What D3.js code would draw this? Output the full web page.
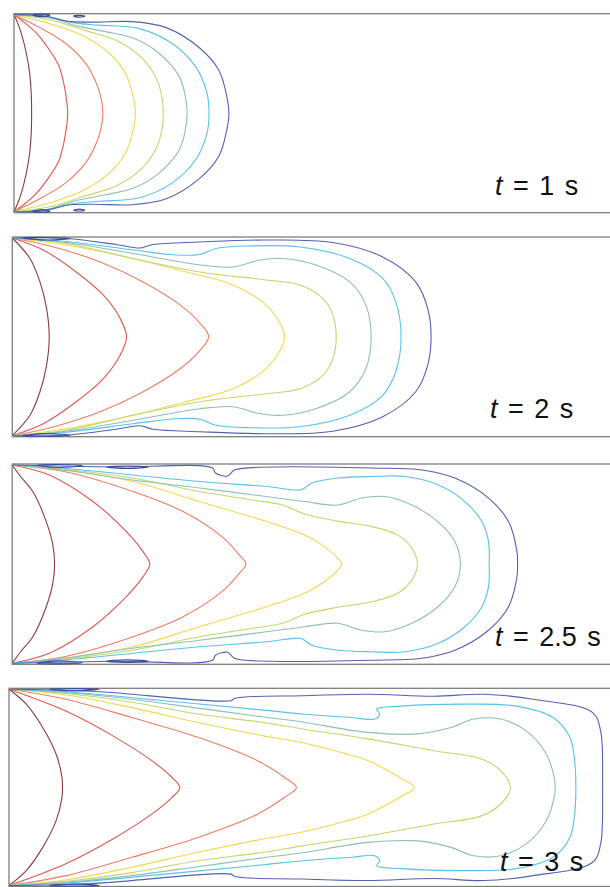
<!DOCTYPE html>
<html>
<head>
<meta charset="utf-8">
<script src="https://cdn.jsdelivr.net/npm/d3@7"></script>
<style>
  body { margin: 0; background: #fff; }
  svg { display: block; }
  .label { font-family: 'Liberation Sans', Arial, sans-serif; font-size: 27px; fill: #111; word-spacing: 3px; }
</style>
</head>
<body>
<div id="chart"></div>
<script>
// contour levels, innermost (left) to outermost
const levelColors = ['#8e3b3b', '#e2564f', '#ee7d63', '#f2d84c', '#c2d66c', '#8dbfb3', '#57c3ea', '#5461ad'];
const timeLabels = ['1', '2', '2.5', '3'];

// upper half of each contour: [x, y], x along channel, y from centre (-100 = top wall)
const contours1 = [
  [[0, -99], [4, -90], [8, -78], [12, -62], [15.5, -42], [17.3, -20], [17.7, 0]],
  [[0, -99], [12, -90], [23, -80], [36, -63], [45, -48], [50, -30], [53, -12], [54, 0]],
  [[0, -99], [26, -86], [52, -70], [72, -50], [84, -27], [88.5, -10], [89.3, 0]],
  [[0, -99], [36, -90], [69, -78], [96, -60], [112, -40], [119, -20], [122, 0]],
  [[0, -99], [36, -94], [72, -83], [103, -73], [129, -55], [144, -33], [149, -14], [150, 0]],
  [[0, -99], [36, -96], [62, -88], [92, -82], [121, -75], [146, -60], [166, -37], [172, -18], [174, 0]],
  [[0, -99], [36, -97], [59, -91], [86, -88.5], [126, -85], [159, -70], [183, -46], [194, -20], [196, 0]],
  [[0, -99], [29, -98], [53, -92.5], [79, -91.5], [119, -92], [153, -86], [186, -66], [206, -43], [214, -16], [216, 0]],
];
const contours2 = [
  [[0, -99], [17.7, -78.5], [27.7, -55], [34.3, -28.5], [37, 0]],
  [[0, -99], [31, -87], [64, -65], [91, -42], [108, -18.5], [114.4, 0]],
  [[0, -99], [38, -91], [88, -75], [131, -55], [168, -32], [188, -13.5], [196.7, 0]],
  [[0, -99], [54, -92], [114, -80], [174, -65], [221, -52], [254, -32], [269, -12], [272.7, 0]],
  [[0, -99], [54, -93.5], [121, -78.5], [188, -65], [254, -57], [288, -52], [311, -38.5], [321, -22], [324.4, 0]],
  [[0, -99], [54, -94.5], [121, -83.5], [188, -72], [221, -70], [248, -77], [271, -78.5], [304, -72], [338, -55], [354, -32], [359.4, 0]],
  [[0, -99], [54, -95.5], [121, -87], [164, -82], [188, -82.5], [204, -88.5], [238, -91], [288, -90], [338, -78.5], [371, -58.5], [384, -35], [389.4, 0]],
  [[0, -99], [54, -98.5], [104, -92.5], [128, -89], [141, -92.5], [188, -95], [254, -97], [321, -94.5], [371, -80], [404, -55], [416, -28.5], [419.4, 0]],
];
const contours3 = [
  [[0, -99], [8, -88], [20.6, -72.5], [34, -42.5], [40.6, -19], [42.3, 0]],
  [[0, -99], [37, -89], [80.6, -62.5], [114, -32.5], [130.6, -12.5], [137.3, 0]],
  [[0, -99], [54, -92], [120.6, -72.5], [170.6, -52.5], [210, -27], [226, -10], [233.3, 0]],
  [[0, -99], [54, -94], [120.6, -82.5], [187, -62.5], [254, -42.5], [292, -29], [311, -18], [325, -6], [329, 0]],
  [[0, -99], [50, -95], [120, -86], [187, -72.5], [240, -64], [270, -59], [292, -50], [325, -43], [359, -37.5], [385, -29], [399, -16], [404.6, 0]],
  [[0, -99], [54, -93.5], [120, -84], [187, -76], [254, -67.5], [292, -62.5], [325, -59], [349, -66], [372, -67.5], [399, -59], [425, -42.5], [442, -22.5], [447.5, 0]],
  [[0, -99], [54, -95.5], [120.6, -89], [187, -82.5], [254, -77.5], [287, -74], [292, -76], [299, -81], [325.6, -86], [359, -87.5], [392, -87.5], [425.6, -79], [452, -62.5], [469, -42.5], [475.6, -22.5], [476.3, 0]],
  [[0, -99], [100, -97], [200, -96], [203, -91], [215, -88], [222, -94], [260, -97], [359, -96], [409, -94], [442, -86], [475.6, -66], [495.6, -42.5], [504, -12.5], [504.6, 0]],
];
const contours4 = [
  [[0, -99], [17.4, -84], [34, -60.5], [47.4, -34], [53.4, -10.5], [54, 0]],
  [[0, -99], [57.4, -77], [107.4, -50.5], [144, -27], [164, -10.5], [172.4, 0]],
  [[0, -99], [57.4, -89], [124, -70.5], [190.7, -50.5], [250.7, -27], [277.4, -10.5], [290, 0]],
  [[0, -99], [60, -93], [124, -80.5], [190.7, -65.5], [257, -52], [296, -45], [329, -37], [362, -27], [396, -9], [409, 0]],
  [[0, -99], [60, -94.5], [124, -86], [190.7, -74], [257, -65.5], [296, -59], [362, -49], [429, -37], [476, -29], [496, -17], [506, 0]],
  [[0, -99], [60, -95.5], [124, -89], [190.7, -80], [257, -71], [296, -66], [362, -55.5], [412, -54], [446, -60.5], [469, -69], [496, -69], [522, -57], [542, -34], [550.7, -7], [551, 0]],
  [[0, -99], [57, -96.5], [157, -87.5], [257, -78], [296, -74], [346, -70.5], [369, -69], [374, -74], [371, -79], [396, -82], [462, -84], [512, -82], [549, -70.5], [566, -50.5], [571, -24], [572, 0]],
  [[0, -99], [60, -98], [100, -96], [224, -87.5], [228, -90], [296, -92.5], [362, -94], [429, -92], [479, -94], [529, -89], [589, -75.5], [597, -57], [599, -7], [599, 0]],
];

// small closed blue patches near the top wall (mirrored to the bottom wall)
const islands1 = [[[19, -98.5], [28, -97], [36, -98.5], [28, -99.5]], [[60, -97.5], [66, -96.5], [71, -97.5], [66, -98.3]]];
const islands2 = [[[10, -99], [35, -97], [58, -98.5], [35, -99.5]]];
const islands3 = [[[25, -99], [45, -96.5], [70, -98.5], [45, -99.5]], [[94, -97], [115, -95.5], [136, -97], [115, -98]]];
const islands4 = [[[41, -99], [65, -97.5], [91, -99], [65, -99.7]]];

const allContours = [contours1, contours2, contours3, contours4];
const allIslands = [islands1, islands2, islands3, islands4];

// panel frames in the page
const frames = [
  { left: 14, top: 13.7, bottom: 212.7, labelX: 495, labelY: 195 },
  { left: 12.3, top: 237, bottom: 436.7, labelX: 490, labelY: 418 },
  { left: 12.2, top: 464, bottom: 664.3, labelX: 495, labelY: 646 },
  { left: 9, top: 688.3, bottom: 886.5, labelX: 500, labelY: 871 },
];

const W = 610;
const H = 887;

const svg = d3.select('#chart').append('svg')
  .attr('width', W)
  .attr('height', H);

frames.forEach((f, i) => {
  const k = (f.bottom - f.top) / 200;
  const x = d3.scaleLinear().domain([0, 100]).range([f.left, f.left + 100 * k]);
  const y = d3.scaleLinear().domain([-100, 100]).range([f.top, f.bottom]);

  const g = svg.append('g').attr('class', `panel panel-${i + 1}`);

  g.append('rect')
    .attr('x', f.left)
    .attr('y', f.top)
    .attr('width', W + 4 - f.left)
    .attr('height', f.bottom - f.top)
    .attr('fill', 'none')
    .attr('stroke', '#7d7d7d')
    .attr('stroke-width', 1.3);

  const line = d3.line()
    .x(d => x(d[0]))
    .y(d => y(d[1]))
    .curve(d3.curveCatmullRom.alpha(0.5));

  allContours[i].forEach((upper, j) => {
    const lower = upper.slice(0, -1).reverse().map(p => [p[0], -p[1]]);
    const pts = upper.concat(lower);
    g.append('path')
      .attr('d', line(pts))
      .attr('fill', 'none')
      .attr('stroke', levelColors[j])
      .attr('stroke-width', 1.1);
  });

  const loop = d3.line()
    .x(d => x(d[0]))
    .y(d => y(d[1]))
    .curve(d3.curveCatmullRomClosed);

  allIslands[i].forEach((isl) => {
    [isl, isl.map(p => [p[0], -p[1]])].forEach((pts) => {
      g.append('path')
        .attr('d', loop(pts))
        .attr('fill', 'none')
        .attr('stroke', '#3b4a9c')
        .attr('stroke-width', 1.2);
    });
  });

  const label = g.append('text')
    .attr('class', 'label')
    .attr('x', f.labelX)
    .attr('y', f.labelY);
  label.append('tspan').attr('font-style', 'italic').text('t');
  label.append('tspan').text(` = ${timeLabels[i]} s`);
});
</script>
</body>
</html>
